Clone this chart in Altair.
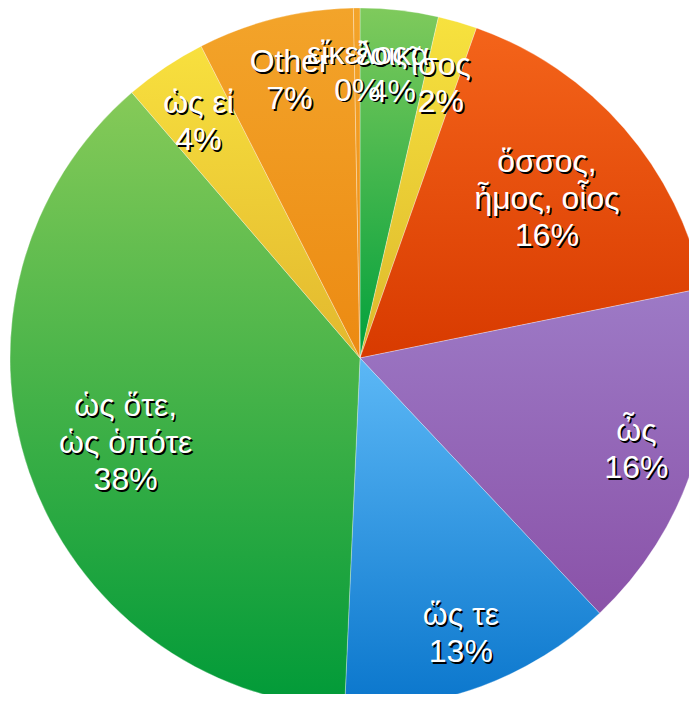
import altair as alt
import pandas as pd

# slices, clockwise from 12 o'clock
labels = ["ἔοικα", "ἶσος", "ὅσσος,\nἦμος, οἷος", "ὦς", "ὥς τε",
          "ὡς ὅτε,\nὡς ὁπότε", "ὡς εἰ", "Other", "εἴκελος"]
values = [3.6, 1.8, 16.4, 16.2, 12.7, 38.0, 3.8, 7.2, 0.3]
pct_text = ["4%", "2%", "16%", "16%", "13%", "38%", "4%", "7%", "0%"]
# gradient colours (top, bottom) for each slice
color_top = ["#7fca5c", "#f7e23e", "#f4641a", "#9d7ac6", "#5cb8f6",
             "#86ca58", "#f8e03e", "#f3a42a", "#f3a42a"]
color_bot = ["#00a03c", "#ddb82c", "#d83a00", "#8a52a8", "#0a76cc",
             "#009a38", "#e2b82e", "#ec8a12", "#ec8a12"]

total = sum(values)
df = pd.DataFrame({
    "idx": list(range(len(labels))),
    "label": labels,
    "value": values,
    "pct": pct_text,
})
df["text"] = [l.split("\n") + [p] for l, p in zip(labels, pct_text)]
df["nlines"] = [len(t) for t in df["text"]]

base = alt.Chart(df).transform_window(
    cum="sum(value)", sort=[alt.SortField("idx")], frame=[None, 0]
).transform_calculate(
    start="datum.cum - datum.value",
    mid="datum.cum - datum.value / 2",
)

theta_scale = alt.Scale(domain=[0, total])
CX, CY, R = 352, 350, 350
LH = 37

layers = []
for i in range(len(labels)):
    grad = {
        "gradient": "linear",
        "x1": 0, "y1": 0, "x2": 0, "y2": 1,
        "stops": [
            {"offset": 0, "color": color_top[i]},
            {"offset": 1, "color": color_bot[i]},
        ],
    }
    layers.append(
        base.transform_filter(alt.datum.idx == i).mark_arc(
            outerRadius=R, fill=grad, stroke="#ffffff",
            strokeWidth=0.6, strokeOpacity=0.5
        ).encode(
            theta=alt.Theta("start:Q", scale=theta_scale, stack=None),
            theta2="cum:Q",
            x=alt.value(CX), y=alt.value(CY),
        )
    )

font = "Liberation Sans"
for n, r in [(2, 290), (3, 248)]:
    shift = -(n - 1) / 2 * LH + 4
    for color, dx, dy in [("#000000", 1.6, 1.9), ("#ffffff", 0, 0)]:
        layers.append(
            base.transform_filter(alt.datum.nlines == n).mark_text(
                radius=r, font=font, fontSize=32, lineHeight=LH,
                color=color, align="center", baseline="middle",
                dx=dx, dy=dy + shift
            ).encode(
                theta=alt.Theta("mid:Q", scale=theta_scale, stack=None),
                text="text",
                x=alt.value(CX), y=alt.value(CY),
            )
        )

chart = alt.layer(*layers).properties(
    width=681, height=686, padding=0,
    autosize=alt.AutoSizeParams(type="none"),
).configure_view(stroke=None)

chart.save("out.html", embed_options={"renderer": "svg", "actions": False})
